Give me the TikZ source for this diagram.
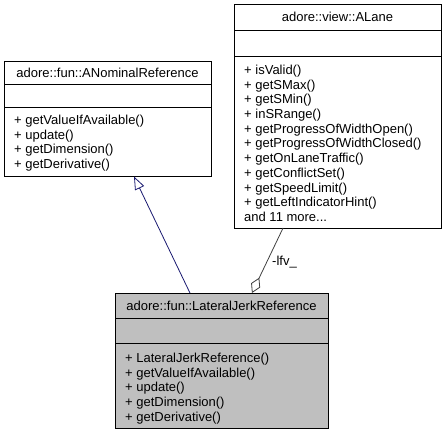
\documentclass[tikz,border=0pt]{standalone}
\usepackage{fontspec}
\setmainfont{Liberation Sans}
\usetikzlibrary{arrows.meta,calc}
\definecolor{inhblue}{HTML}{191970}
\definecolor{aggray}{HTML}{404040}
\definecolor{hlfill}{HTML}{BFBFBF}
\begin{document}
\begin{tikzpicture}[x=1pt,y=-1pt,
  box/.style={draw=black, line width=0.9pt, anchor=north west, inner sep=0pt, outer sep=0pt},
  sepline/.style={draw=black, line width=0.9pt},
  titletext/.style={font=\fontsize{13}{14.7}\selectfont, anchor=base, inner sep=0pt},
  membertext/.style={font=\fontsize{13}{14.7}\selectfont, anchor=base west, inner sep=0pt},
  inh/.style={draw=inhblue, line width=0.8pt, -{Triangle[open, length=13pt, width=10pt, line width=0.8pt]}},
  agg/.style={draw=aggray, line width=0.8pt, -{Diamond[open, length=17pt, width=10pt, line width=0.8pt]}},
  lbl/.style={font=\fontsize{13}{14.7}\selectfont, anchor=west, inner sep=0pt}]
\useasboundingbox (0,0) rectangle (442,433);

% ANominalReference
\node[box, fill=white, minimum width=207pt, minimum height=115.5pt] (anom) at (4,61) {};
\draw[sepline] ($(anom.north west)+(0,23.5)$) -- ($(anom.north east)+(0,23.5)$);
\draw[sepline] ($(anom.north west)+(0,46)$) -- ($(anom.north east)+(0,46)$);
\node[titletext] (anomT) at (107.5,77.5) {adore::fun::ANominalReference};
\foreach \t [count=\i] in {+ getValueIfAvailable(), + update(), + getDimension(), + getDerivative()}
  \node[membertext] (anomM\i) at (14,{124.5+(\i-1)*14.7}) {\t};

% ALane
\node[box, fill=white, minimum width=207pt, minimum height=224pt] (alane) at (234,4) {};
\draw[sepline] ($(alane.north west)+(0,26)$) -- ($(alane.north east)+(0,26)$);
\draw[sepline] ($(alane.north west)+(0,52)$) -- ($(alane.north east)+(0,52)$);
\node[titletext] (alaneT) at (337.5,21.5) {adore::view::ALane};
\foreach \t [count=\i] in {+ isValid(), + getSMax(), + getSMin(), + inSRange(), + getProgressOfWidthOpen(), + getProgressOfWidthClosed(), + getOnLaneTraffic(), + getConflictSet(), + getSpeedLimit(), + getLeftIndicatorHint()}
  \node[membertext] (alaneM\i) at (244,{74.5+(\i-1)*14.7}) {\t};
\node[membertext] (alaneMore) at (244,{74.5+10*14.7}) {and 11 more...};

% LateralJerkReference
\node[box, fill=hlfill, minimum width=213pt, minimum height=135pt] (lat) at (115,293) {};
\draw[sepline] ($(lat.north west)+(0,25)$) -- ($(lat.north east)+(0,25)$);
\draw[sepline] ($(lat.north west)+(0,50)$) -- ($(lat.north east)+(0,50)$);
\node[titletext] (latT) at (221.5,310) {adore::fun::LateralJerkReference};
\foreach \t [count=\i] in {+ LateralJerkReference(), + getValueIfAvailable(), + update(), + getDimension(), + getDerivative()}
  \node[membertext] (latM\i) at (125,{362.5+(\i-1)*14.7}) {\t};

% connectors
\draw[inh] ($(lat.north west)!0.352!(lat.north east)$) -- ($(anom.south west)!0.628!(anom.south east)$);
\draw[agg] ($(alane.south west)!0.237!(alane.south east)$) -- ($(lat.north west)!0.643!(lat.north east)$);
\node[lbl] (lfv) at (272,262) {-lfv\_};
\end{tikzpicture}
\end{document}
